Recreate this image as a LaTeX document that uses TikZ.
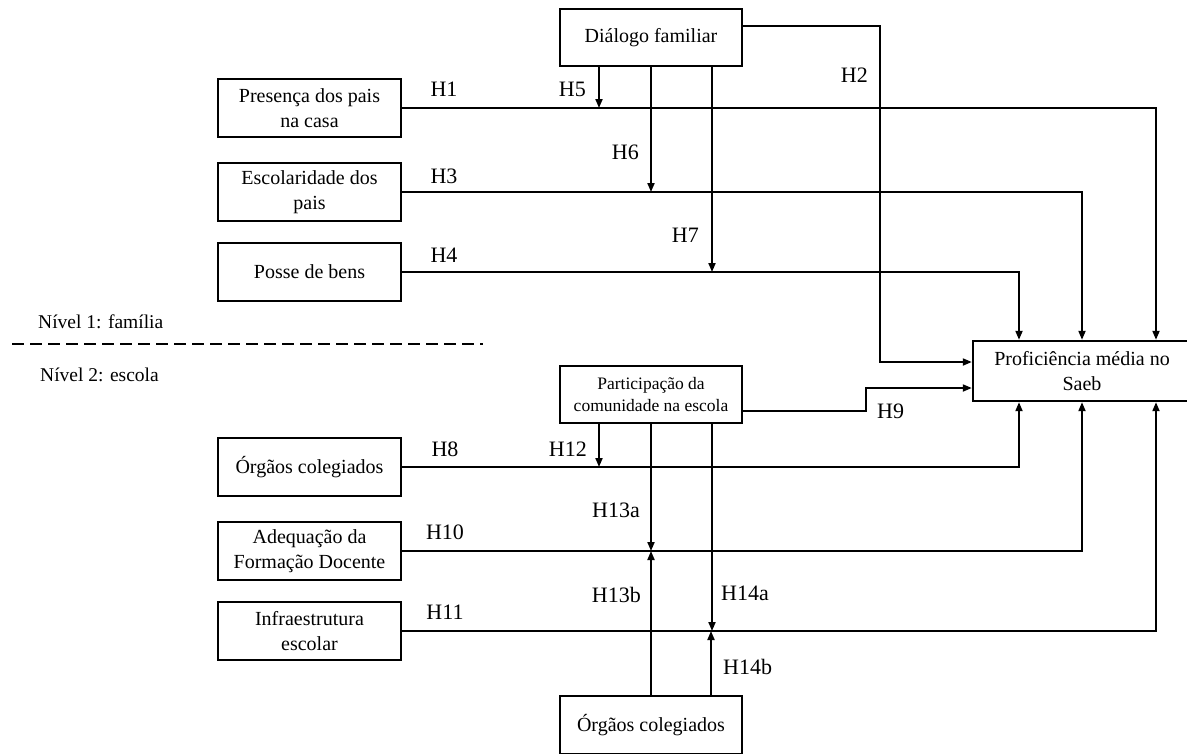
\documentclass[tikz,border=0pt]{standalone}
\usepackage{fontspec}
\setmainfont{Liberation Serif}
\usetikzlibrary{arrows.meta}
\begin{document}
\begin{tikzpicture}[x=1pt,y=-1pt,
  box/.style={draw,line width=2.4pt,inner sep=0pt,align=center,
    font=\fontsize{20}{25}\selectfont},
  smallbox/.style={box,font=\fontsize{17.5}{22}\selectfont},
  lbl/.style={inner sep=0pt,font=\fontsize{22}{26}\selectfont},
  lvl/.style={inner sep=0pt,font=\fontsize{19.5}{22}\selectfont,anchor=west},
  conn/.style={line width=1.9pt,-{Triangle[width=7pt,length=9pt]}},
  plain/.style={line width=1.9pt}]
\useasboundingbox (0,0) rectangle (1187,753);

% boxes
\node[box,minimum width=182pt,minimum height=57pt] (dial) at (651,37.5) {Diálogo familiar};
\node[box,minimum width=183pt,minimum height=58pt] (pres) at (309.5,108) {Presença dos pais\\na casa};
\node[box,minimum width=183pt,minimum height=58pt] (esc) at (309.5,192) {Escolaridade dos\\pais};
\node[box,minimum width=183pt,minimum height=58pt] (posse) at (309.5,272) {Posse de bens};
\node[box,minimum width=183pt,minimum height=58pt] (org1) at (309.5,467) {Órgãos colegiados};
\node[box,minimum width=183pt,minimum height=58pt] (adeq) at (309.5,551) {Adequação da\\Formação Docente};
\node[box,minimum width=183pt,minimum height=58pt] (infra) at (309.5,631) {Infraestrutura\\escolar};
\node[smallbox,minimum width=182pt,minimum height=57pt] (part) at (651,394.5) {Participação da\\comunidade na escola};
\node[box,minimum width=182pt,minimum height=58pt] (org2) at (651,725) {Órgãos colegiados};
\node[box,minimum width=218pt,minimum height=60pt] (prof) at (1082,371) {Proficiência média no\\Saeb};

% level separator
\node[lvl] (lv1) at (38,322) {Nível 1: família};
\node[lvl] (lv2) at (40,375) {Nível 2: escola};
\draw[line width=2pt,dash pattern=on 12pt off 6pt] (12,344) -- (483,344);

% direct effects, level 1
\draw[conn] (pres.east) -| ([xshift=74pt]prof.north);
\draw[conn] (esc.east) -| (prof.north);
\draw[conn] (posse.east) -| ([xshift=-63pt]prof.north);
\coordinate (h2c) at (880,362);
\draw[conn] ([yshift=11.5pt]dial.east) -| (h2c) -- (h2c -| prof.west);

% moderation, level 1
\coordinate (d5) at ([xshift=-52pt]dial.south);
\coordinate (d7) at ([xshift=61pt]dial.south);
\draw[conn] (d5) -- (d5 |- pres.east);
\draw[conn] (dial.south) -- (dial.south |- esc.east);
\draw[conn] (d7) -- (d7 |- posse.east);

% level 2
\coordinate (h9c) at (866,388);
\draw[conn] ([yshift=-16.5pt]part.east) -| (h9c) -- (h9c -| prof.west);
\draw[conn] (org1.east) -| ([xshift=-63pt]prof.south);
\draw[conn] (adeq.east) -| (prof.south);
\draw[conn] (infra.east) -| ([xshift=74pt]prof.south);

\coordinate (p12) at ([xshift=-52pt]part.south);
\coordinate (p14) at ([xshift=61pt]part.south);
\coordinate (o14) at ([xshift=60pt]org2.north);
\draw[conn] (p12) -- (p12 |- org1.east);
\draw[conn] (part.south) -- (part.south |- adeq.east);
\draw[conn] (p14) -- (p14 |- infra.east);
\draw[conn] (org2.north) -- (org2.north |- adeq.east);
\draw[conn] (o14) -- (o14 |- infra.east);

% labels
\node[lbl] (lh1) at (444,89) {H1};
\node[lbl,anchor=east] (lh5) at (586,89) {H5};
\node[lbl,anchor=east] (lh2) at (868,75) {H2};
\node[lbl,anchor=east] (lh6) at (639,152) {H6};
\node[lbl] (lh3) at (444,176.5) {H3};
\node[lbl,anchor=east] (lh7) at (699,235) {H7};
\node[lbl] (lh4) at (444,255.5) {H4};
\node[lbl,anchor=west] (lh9) at (877,411) {H9};
\node[lbl] (lh8) at (445,449.5) {H8};
\node[lbl,anchor=east] (lh12) at (587,449.5) {H12};
\node[lbl,anchor=east] (lh13a) at (640,510) {H13a};
\node[lbl] (lh10) at (445,532.5) {H10};
\node[lbl,anchor=east] (lh13b) at (641,595) {H13b};
\node[lbl,anchor=west] (lh14a) at (721,593) {H14a};
\node[lbl] (lh11) at (445,612.5) {H11};
\node[lbl,anchor=west] (lh14b) at (723,667) {H14b};
\end{tikzpicture}
\end{document}
